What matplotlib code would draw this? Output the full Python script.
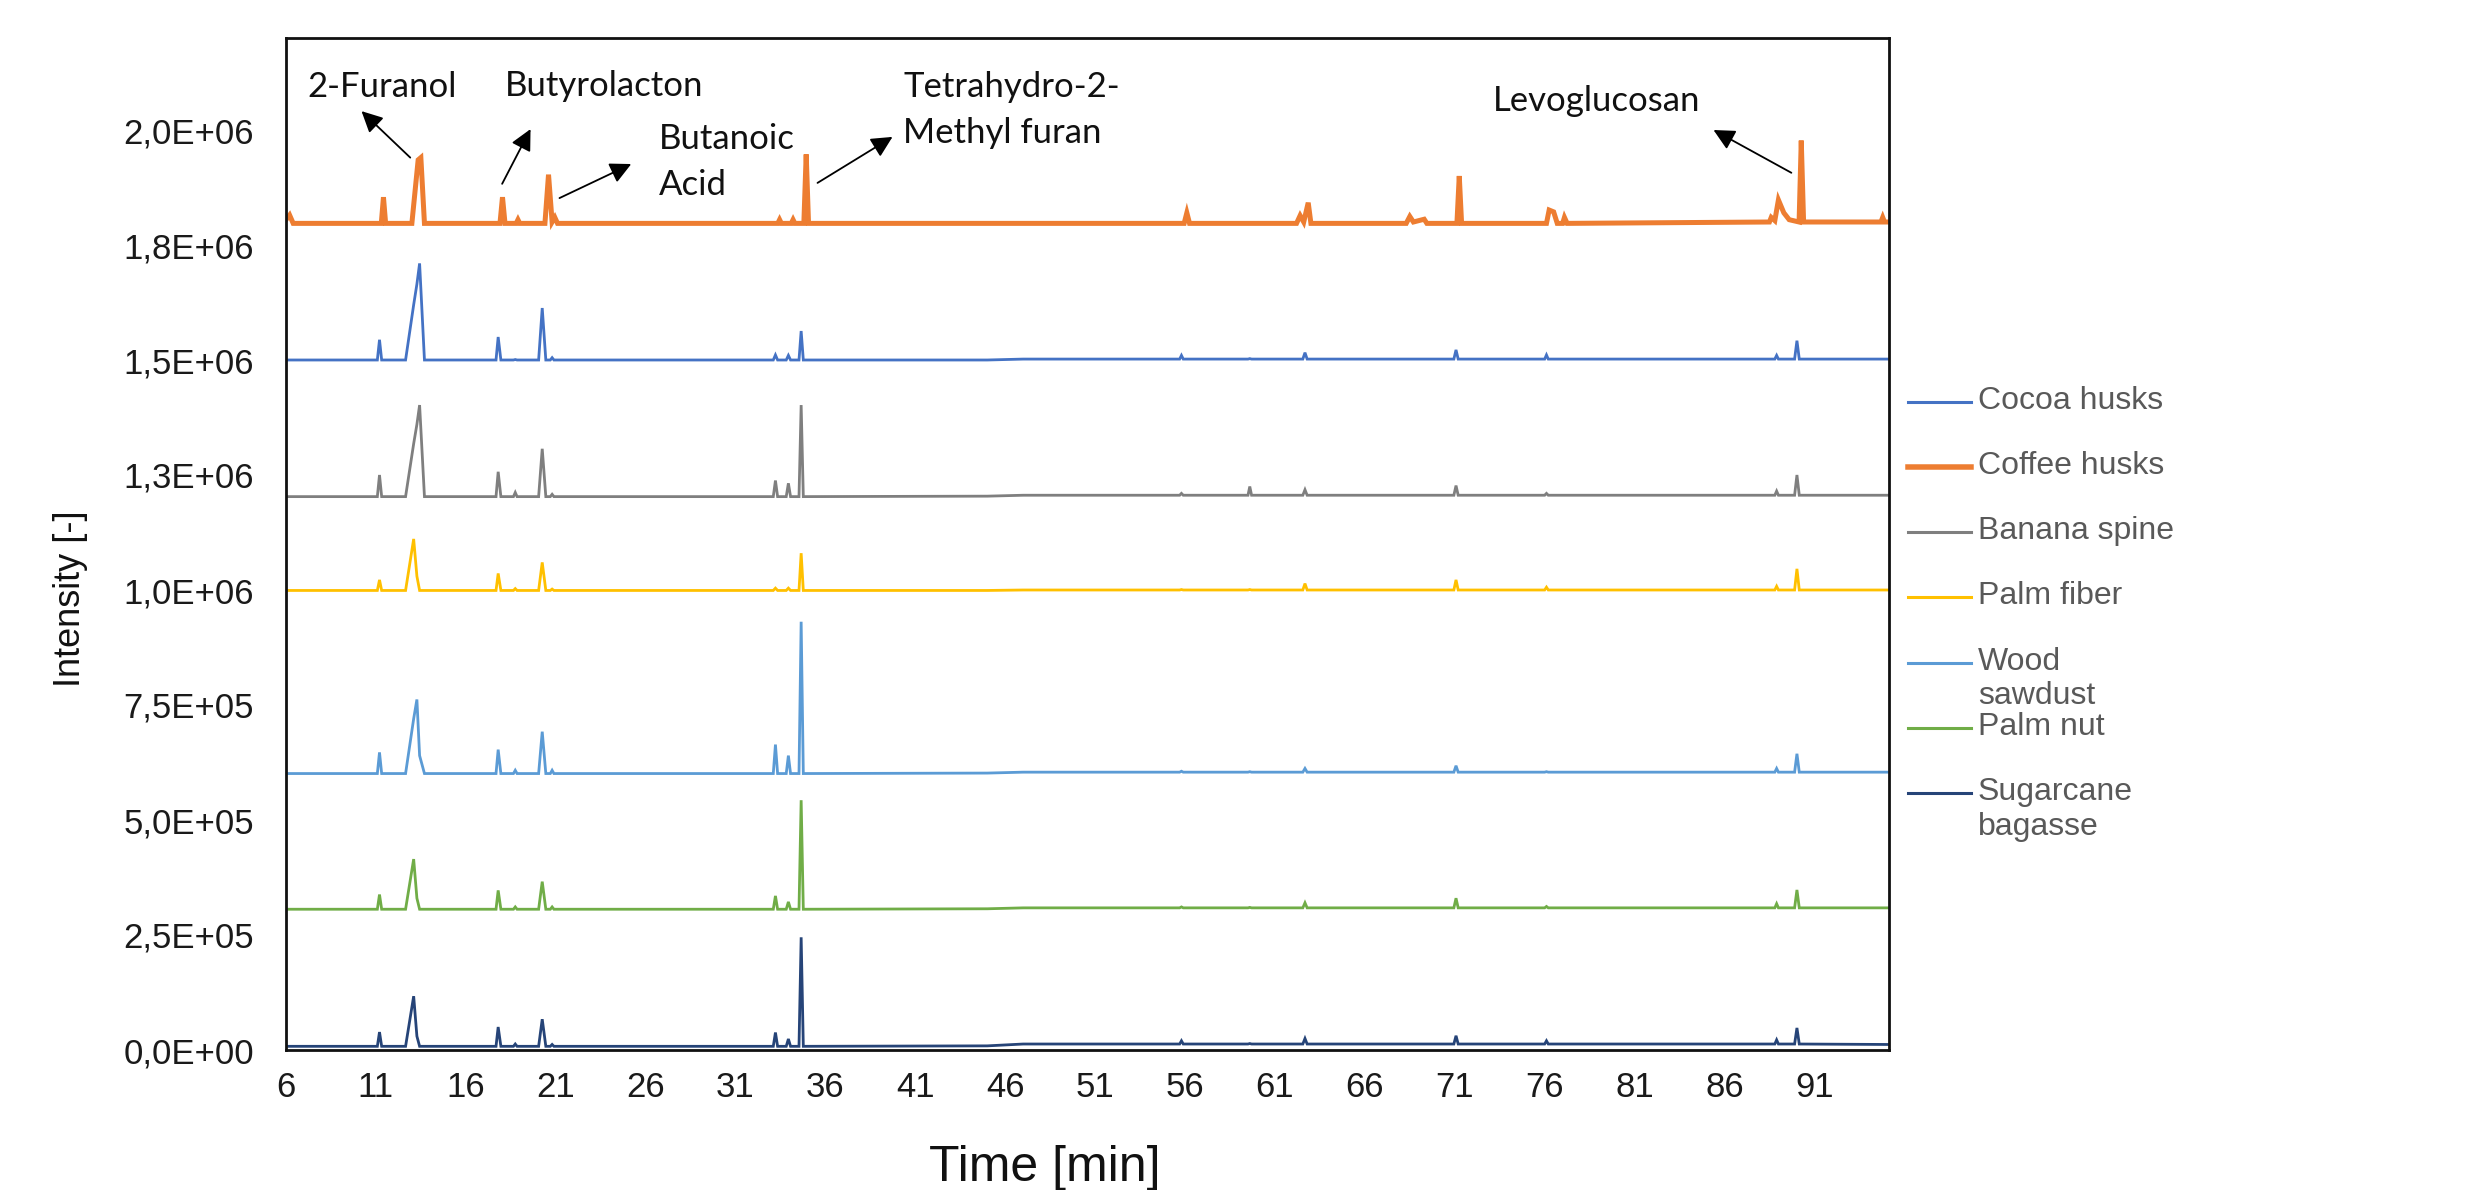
import matplotlib.pyplot as plt
from matplotlib.lines import Line2D

OUT = 'out.png'

# retention time grid shared by the six lower traces [min]
rt = [6.0, 11.08, 11.2, 11.32, 12.65, 13.1, 13.28, 13.43, 13.7,
      17.68, 17.8, 17.95, 18.65, 18.75, 18.85, 20.05, 20.25, 20.45,
      20.7, 20.8, 20.9, 33.1, 33.22, 33.34, 33.82, 33.94, 34.06,
      34.53, 34.65, 34.77, 45.0, 47.0, 55.7, 55.8, 55.9, 59.5, 59.6,
      59.7, 62.55, 62.67, 62.79, 70.95, 71.07, 71.19, 76.0, 76.1,
      76.2, 88.8, 88.9, 89.0, 89.9, 90.03, 90.16, 95.15]

# intensities in E+06
cocoa = [1.500, 1.500, 1.544, 1.500, 1.500, 1.620, 1.665, 1.710, 1.500,
         1.500, 1.550, 1.500, 1.500, 1.501, 1.500, 1.500, 1.613, 1.500,
         1.500, 1.505, 1.500, 1.500, 1.511, 1.500, 1.500, 1.510, 1.500,
         1.500, 1.563, 1.500, 1.500, 1.502, 1.502, 1.510, 1.502, 1.502, 1.503,
         1.502, 1.502, 1.516, 1.502, 1.502, 1.522, 1.502, 1.502, 1.511,
         1.502, 1.502, 1.510, 1.502, 1.502, 1.542, 1.502, 1.502]
banana = [1.203, 1.203, 1.250, 1.203, 1.203, 1.318, 1.360, 1.402, 1.203,
          1.203, 1.257, 1.203, 1.203, 1.212, 1.203, 1.203, 1.307, 1.203,
          1.203, 1.208, 1.203, 1.203, 1.238, 1.203, 1.203, 1.232, 1.203,
          1.203, 1.402, 1.203, 1.204, 1.206, 1.206, 1.210, 1.206, 1.206, 1.225,
          1.206, 1.206, 1.218, 1.206, 1.206, 1.227, 1.206, 1.206, 1.210,
          1.206, 1.206, 1.215, 1.206, 1.206, 1.250, 1.206, 1.206]
palm_fiber = [0.999, 0.999, 1.022, 0.999, 0.999, 1.111, 1.030, 0.999, 0.999,
              0.999, 1.036, 0.999, 0.999, 1.003, 0.999, 0.999, 1.060, 0.999,
              0.999, 1.002, 0.999, 0.999, 1.004, 0.999, 0.999, 1.004, 0.999,
              0.999, 1.080, 0.999, 0.999, 1.000, 1.000, 1.001, 1.000, 1.000, 1.001,
              1.000, 1.000, 1.014, 1.000, 1.000, 1.022, 1.000, 1.000, 1.006,
              1.000, 1.000, 1.008, 1.000, 1.000, 1.046, 1.000, 1.000]
wood = [0.601, 0.601, 0.647, 0.601, 0.601, 0.720, 0.762, 0.640, 0.601,
        0.601, 0.653, 0.601, 0.601, 0.608, 0.601, 0.601, 0.692, 0.601,
        0.601, 0.608, 0.601, 0.601, 0.664, 0.601, 0.601, 0.640, 0.601,
        0.601, 0.931, 0.601, 0.602, 0.604, 0.604, 0.606, 0.604, 0.604, 0.605,
        0.604, 0.604, 0.612, 0.604, 0.604, 0.618, 0.604, 0.604, 0.605,
        0.604, 0.604, 0.612, 0.604, 0.604, 0.644, 0.604, 0.604]
palm_nut = [0.306, 0.306, 0.338, 0.306, 0.306, 0.415, 0.330, 0.306, 0.306,
            0.306, 0.347, 0.306, 0.306, 0.311, 0.306, 0.306, 0.366, 0.306,
            0.306, 0.311, 0.306, 0.306, 0.335, 0.306, 0.306, 0.322, 0.306,
            0.306, 0.543, 0.306, 0.307, 0.309, 0.309, 0.311, 0.309, 0.309, 0.310,
            0.309, 0.309, 0.320, 0.309, 0.309, 0.330, 0.309, 0.309, 0.312,
            0.309, 0.309, 0.318, 0.309, 0.309, 0.348, 0.309, 0.309]
bagasse = [0.008, 0.008, 0.039, 0.008, 0.008, 0.117, 0.030, 0.008, 0.008,
           0.008, 0.050, 0.008, 0.008, 0.013, 0.008, 0.008, 0.067, 0.008,
           0.008, 0.012, 0.008, 0.008, 0.038, 0.008, 0.008, 0.024, 0.008,
           0.008, 0.245, 0.008, 0.009, 0.013, 0.013, 0.020, 0.013, 0.013, 0.014,
           0.013, 0.013, 0.025, 0.013, 0.013, 0.031, 0.013, 0.013, 0.020,
           0.013, 0.013, 0.022, 0.013, 0.013, 0.048, 0.013, 0.012]

# coffee husks elute slightly later, own time grid
rt_coffee = [6.0, 6.2, 6.4, 11.3, 11.42, 11.54, 13.0, 13.35, 13.5, 13.7,
             17.9, 18.04, 18.18, 18.8, 18.9, 19.0, 20.4, 20.6, 20.8, 20.95,
             21.1, 33.35, 33.45, 33.55, 34.1, 34.2, 34.3, 34.8, 34.93, 35.06,
             55.95, 56.1, 56.25, 62.2, 62.4, 62.6, 62.85, 63.0, 68.3, 68.5,
             68.7, 69.3, 69.45, 71.12, 71.25, 71.38, 76.1, 76.25, 76.5, 76.7,
             77.0, 77.1, 77.25, 88.5, 88.6, 88.8, 89.0, 89.3, 89.6, 90.15,
             90.27, 90.4, 94.7, 94.8, 94.9, 95.15]
coffee = [1.805, 1.815, 1.797, 1.797, 1.854, 1.797, 1.797, 1.935, 1.940, 1.797,
          1.797, 1.854, 1.797, 1.797, 1.805, 1.797, 1.797, 1.903, 1.800, 1.810,
          1.797, 1.797, 1.805, 1.797, 1.797, 1.805, 1.797, 1.797, 1.947, 1.797,
          1.797, 1.820, 1.797, 1.797, 1.814, 1.800, 1.842, 1.797, 1.797, 1.812,
          1.800, 1.806, 1.797, 1.797, 1.900, 1.797, 1.797, 1.826, 1.822, 1.797,
          1.797, 1.810, 1.797, 1.800, 1.810, 1.803, 1.848, 1.820, 1.805, 1.800,
          1.977, 1.800, 1.800, 1.810, 1.800, 1.800]

names = ['Cocoa husks', 'Coffee husks', 'Banana spine', 'Palm fiber',
         'Wood\nsawdust', 'Palm nut', 'Sugarcane\nbagasse']
colors = ['#4472C4', '#ED7D31', '#7F7F7F', '#FFC000', '#5B9BD5', '#70AD47', '#264478']
series = [(rt, cocoa), (rt_coffee, coffee), (rt, banana), (rt, palm_fiber),
          (rt, wood), (rt, palm_nut), (rt, bagasse)]
widths = [2.0, 3.6, 2.0, 2.0, 2.0, 2.0, 2.0]

yticks = [0, 2.5e5, 5e5, 7.5e5, 1e6, 1.25e6, 1.5e6, 1.75e6, 2e6]
ytick_labels = ['0,0E+00', '2,5E+05', '5,0E+05', '7,5E+05', '1,0E+06',
                '1,3E+06', '1,5E+06', '1,8E+06', '2,0E+06']
xticks = list(range(6, 92, 5))

# (label, text pos, arrow tail, arrow head) in data units
notes = [
    ('2-Furanol', (11.37, 2.093e6), (12.91, 1.940e6), (10.2, 2.041e6), 'center'),
    ('Butyrolacton', (18.15, 2.096e6), (18.02, 1.883e6), (19.6, 2.002e6), 'left'),
    ('Butanoic\nAcid', (26.72, 1.931e6), (21.21, 1.852e6), (25.2, 1.926e6), 'left'),
    ('Tetrahydro-2-\nMethyl furan', (40.34, 2.043e6), (35.56, 1.885e6), (39.73, 1.985e6), 'left'),
    ('Levoglucosan', (73.1, 2.063e6), (89.72, 1.907e6), (85.39, 2.0e6), 'left'),
]

W, H = 2472, 1190
fig = plt.figure(figsize=(W / 100, H / 100), dpi=100)
ax = fig.add_axes([286 / W, 1 - 1050 / H, (1889 - 286) / W, (1050 - 38) / H])

for (t, vals), c, lw in zip(series, colors, widths):
    ax.plot(t, [v * 1e6 for v in vals], color=c, lw=lw, solid_joinstyle='miter')

ax.set_xlim(6, 95.15)
ax.set_ylim(0, 2.2e6)
ax.set_xticks(xticks)
ax.set_yticks(yticks)
ax.set_yticklabels(ytick_labels)
ax.tick_params(length=0, labelsize=25, labelcolor='#1a1a1a',
               labelfontfamily='Liberation Sans')
ax.tick_params(axis='y', pad=23)
ax.tick_params(axis='x', pad=15)
for sp in ax.spines.values():
    sp.set_linewidth(2.0)
    sp.set_color('#111111')

for label, txt, tail, head, ha in notes:
    ax.text(txt[0], txt[1], label, ha=ha, va='center', fontsize=25,
            family='Lato', color='#111111', linespacing=1.55)
    ax.annotate('', xy=head, xytext=tail,
                arrowprops=dict(arrowstyle='-|>', color='black', lw=1.3,
                                mutation_scale=32, shrinkA=0, shrinkB=0))

fig.text(1045 / W, 1 - 1168 / H, 'Time [min]', ha='center', va='center',
         fontsize=36, family='Liberation Sans', color='#111111')
fig.text(71 / W, 1 - 599 / H, 'Intensity [-]', ha='center', va='center',
         rotation=90, fontsize=26, family='Liberation Sans', color='#111111')

# legend drawn by hand so that two-line labels keep the Excel spacing
for i, (name, c, lw) in enumerate(zip(names, colors, widths)):
    py = 401.7 + i * 65.2
    fig.add_artist(Line2D([1908 / W, 1971 / W], [1 - py / H, 1 - py / H],
                          color=c, lw=lw * 1.1, transform=fig.transFigure))
    fig.text(1978 / W, 1 - (py - 16) / H, name, ha='left', va='top',
             fontsize=23, family='Liberation Sans', color='#595959',
             linespacing=1.2)

fig.savefig(OUT, dpi=100)
